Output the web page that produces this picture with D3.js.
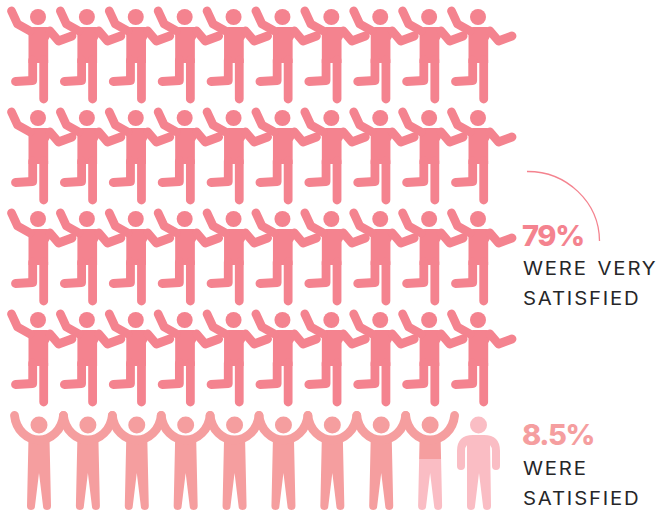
<!DOCTYPE html>
<html>
<head>
<meta charset="utf-8">
<script src="https://cdn.jsdelivr.net/npm/d3@7"></script>
<style>
  html, body { margin: 0; padding: 0; background: #fff; }
  text { font-family: "Inter", "Liberation Sans", sans-serif; }
</style>
</head>
<body>
<div id="chart"></div>
<script>
const categories = ["WERE VERY SATISFIED", "WERE SATISFIED", "OTHER"]
const percentLabels = ["79%", "8.5%"]
const figureCounts = [40, 8.5, 1.5]
const perRow = 10

const width = 658, height = 513
const colors = { very: "#f4838f", sat: "#f59e9f", rest: "#fabdc4", ink: "#262628" }

const xScale = d3.scaleLinear().domain([0, 9]).range([0, 440])
const yScale = d3.scaleLinear().domain([0, 4]).range([0, 404])
// share of one figure -> local y of the cut between the two colours
const cutScale = d3.scaleLinear().domain([0, 1]).range([106, 4])

const svg = d3.select("#chart").append("svg")
  .attr("width", width).attr("height", height)
  .style("display", "block")

const defs = svg.append("defs")

function limbs(g, list, w) {
  list.forEach((d) => {
    g.append("path").attr("d", d)
      .attr("fill", "none").attr("stroke-width", w)
      .attr("stroke-linecap", "round").attr("stroke-linejoin", "round")
  })
}

// dancing figure
const dance = defs.append("g").attr("id", "dance")
dance.append("circle").attr("cx", 38).attr("cy", 17).attr("r", 8).attr("stroke", "none")
dance.append("path").attr("stroke", "none")
  .attr("d", "M28.5 33 Q28.5 27 33 27 L47 27 Q50 27 53 31 L48.2 40 L48.2 63 L28.5 63 Z")
limbs(dance, [
  "M11.5 11 L17.5 24 L30 31",
  "M50 31 L58.5 41 L72 36",
  "M32.7 60 L32.7 80.5 L15.5 81.5",
  "M43.7 60 L43.7 99"
], 8.8)

// arms up figure
const cheer = defs.append("g").attr("id", "cheer")
cheer.append("circle").attr("cx", 39).attr("cy", 21).attr("r", 8.5).attr("stroke", "none")
cheer.append("path").attr("stroke", "none")
  .attr("d", "M28.5 34 L49.5 34 L51 102 A4 4 0 0 1 43 102 L39 69 L35 102 A4 4 0 0 1 27 102 Z")
limbs(cheer, ["M14.5 11.5 C16 26 27 36 39 36 C51 36 62 26 63.5 11.5"], 8.8)

// arms down figure
const stand = defs.append("g").attr("id", "stand")
stand.append("circle").attr("cx", 38.5).attr("cy", 21).attr("r", 8.5).attr("stroke", "none")
stand.append("path").attr("stroke", "none")
  .attr("d", "M27 35 L50 35 L51 102 A4 4 0 0 1 43 102 L39 69 L35 102 A4 4 0 0 1 27 102 Z")
limbs(stand, ["M21 62 L21 47 Q21 35 33 35 L44 35 Q56 35 56 47 L56 62"], 8)

// build one entry per figure
const cells = d3.range(perRow * 5).map((i) => ({
  col: i % perRow,
  row: Math.floor(i / perRow),
  i
}))

function place(d) {
  return "translate(" + xScale(d.col) + "," + yScale(d.row) + ")"
}

const satStart = figureCounts[0]
const satEnd = figureCounts[0] + figureCounts[1]

svg.selectAll("use.dance")
  .data(cells.filter((d) => d.i < satStart))
  .enter().append("use")
  .attr("class", "dance")
  .attr("href", "#dance")
  .attr("transform", place)
  .attr("fill", colors.very)
  .attr("stroke", colors.very)

const lastRow = cells.filter((d) => d.i >= satStart)

// partly filled figure is clipped along its height
const partShare = satEnd - Math.floor(satEnd)
defs.append("clipPath").attr("id", "partTop")
  .append("rect").attr("x", -10).attr("y", -10).attr("width", 100)
  .attr("height", cutScale(partShare) + 10)
defs.append("clipPath").attr("id", "partBottom")
  .append("rect").attr("x", -10).attr("y", cutScale(partShare)).attr("width", 100).attr("height", 130)

lastRow.forEach((d) => {
  const g = svg.append("g").attr("transform", place(d))
  if (d.i + 1 <= satEnd) {
    g.append("use").attr("href", "#cheer").attr("fill", colors.sat).attr("stroke", colors.sat)
  } else if (d.i < satEnd) {
    g.append("g").attr("clip-path", "url(#partBottom)")
      .append("use").attr("href", "#cheer").attr("fill", colors.rest).attr("stroke", colors.rest)
    g.append("g").attr("clip-path", "url(#partTop)")
      .append("use").attr("href", "#cheer").attr("fill", colors.sat).attr("stroke", colors.sat)
  } else {
    g.append("use").attr("href", "#stand").attr("fill", colors.rest).attr("stroke", colors.rest)
  }
})

// labels
const labels = [
  { pct: percentLabels[0], color: colors.very, y: 246, lines: ["WERE VERY", "SATISFIED"], ly: [275, 305] },
  { pct: percentLabels[1], color: colors.sat, y: 445, lines: ["WERE", "SATISFIED"], ly: [475, 505] }
]

labels.forEach((l) => {
  svg.append("text")
    .attr("x", 522).attr("y", l.y)
    .attr("fill", l.color)
    .attr("font-size", 29).attr("font-weight", 800)
    .attr("letter-spacing", -1.4)
    .text(l.pct)
  l.lines.forEach((t, i) => {
    svg.append("text")
      .attr("transform", "translate(523," + l.ly[i] + ") scale(1.13,1)")
      .attr("fill", colors.ink)
      .attr("font-size", 18).attr("font-weight", 400)
      .attr("letter-spacing", 1.6)
      .attr("word-spacing", 2)
      .text(t)
  })
})

// callout arc
svg.append("path")
  .attr("d", "M527 171.5 A72 70 0 0 1 599.5 241")
  .attr("fill", "none")
  .attr("stroke", colors.very)
  .attr("stroke-width", 1.3)
</script>
</body>
</html>
